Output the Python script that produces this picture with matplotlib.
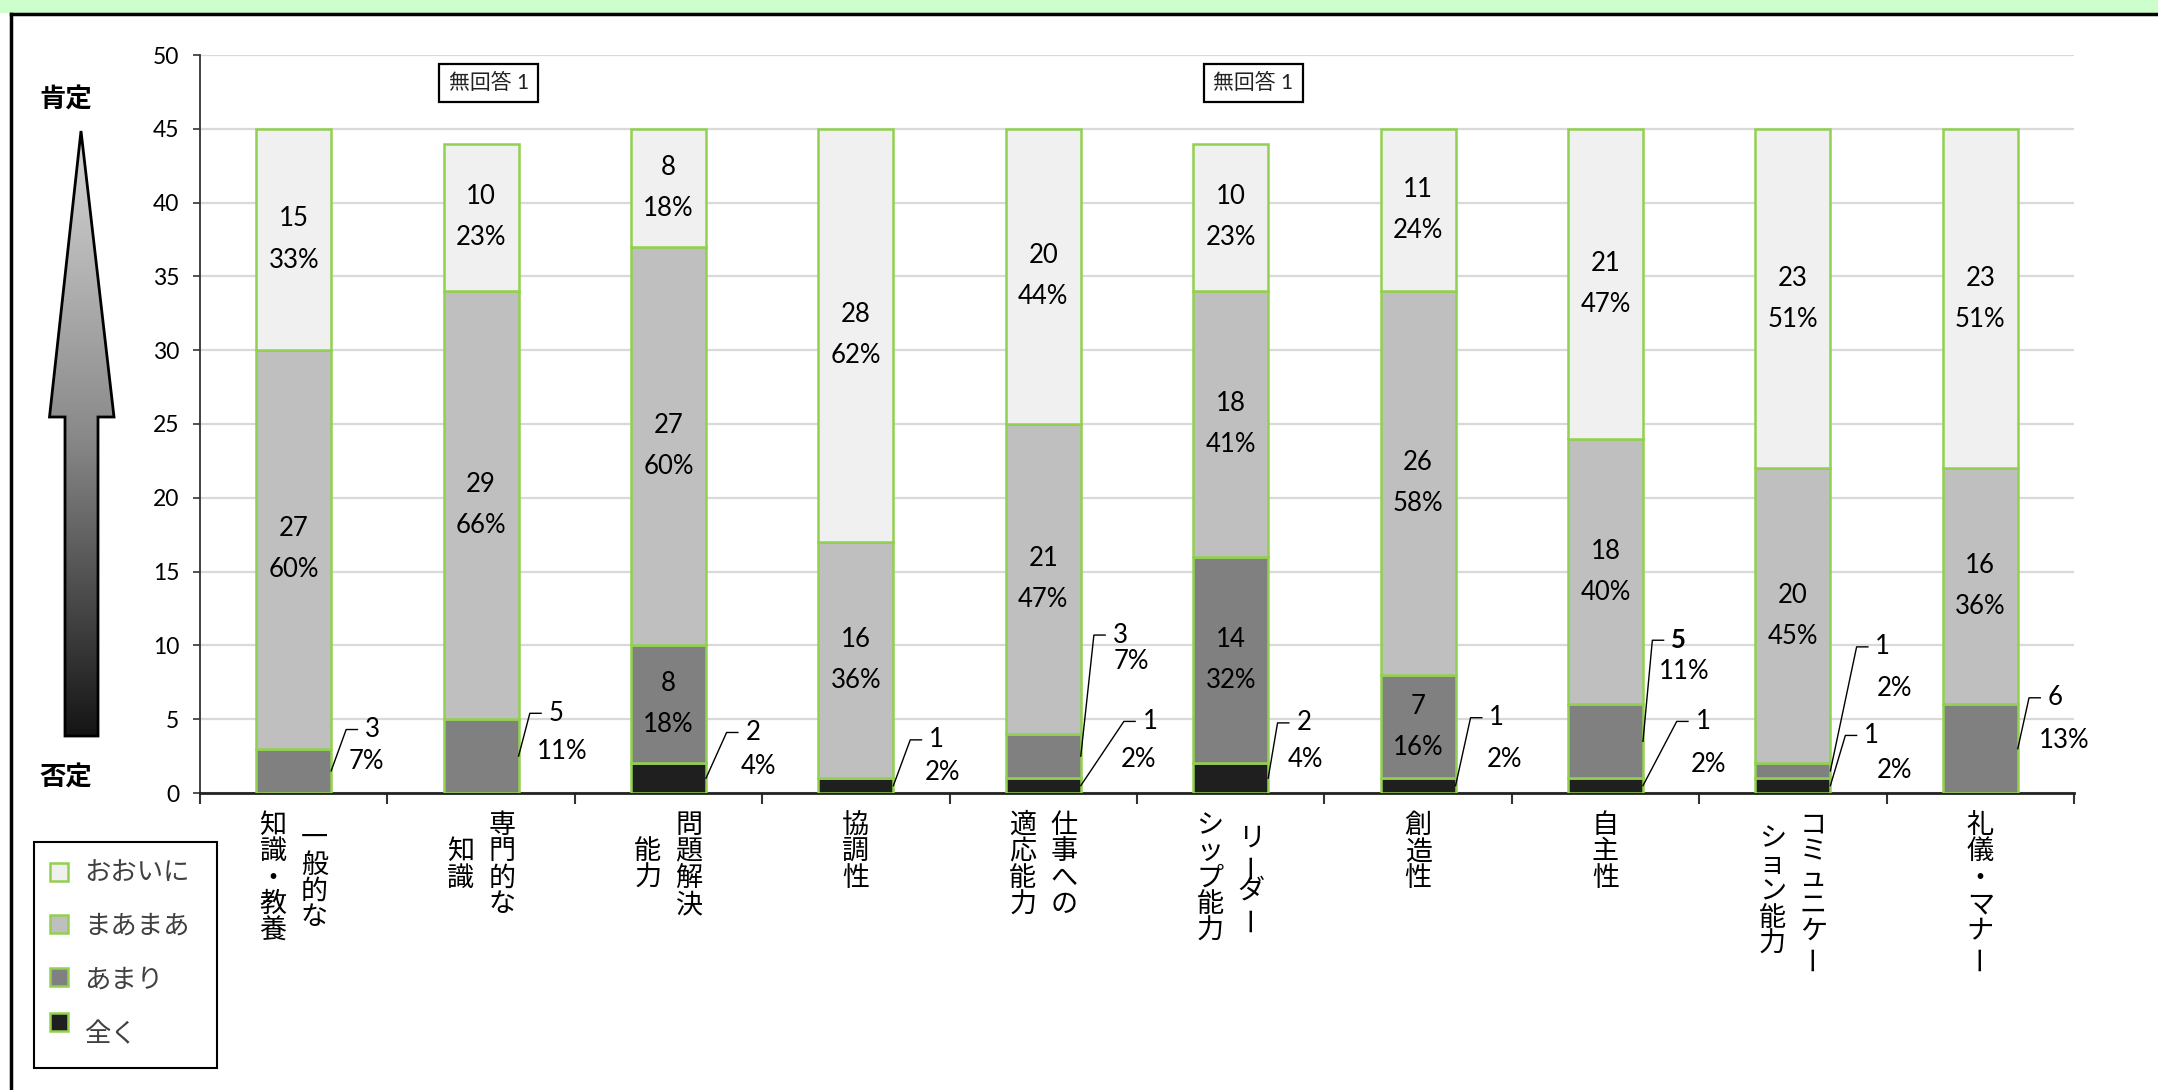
import numpy as np
import matplotlib
matplotlib.use("Agg")
import matplotlib.pyplot as plt
from matplotlib.patches import Polygon, Rectangle
from matplotlib.colors import LinearSegmentedColormap

plt.rcParams["font.family"] = ["Lato", "Noto Sans CJK JP", "DejaVu Sans"]

# ---- data ----
categories = [
    ["一般的な", "知識・教養"],
    ["専門的な", "知識"],
    ["問題解決", "能力"],
    ["協調性"],
    ["仕事への", "適応能力"],
    ["リーダー", "シップ能力"],
    ["創造性"],
    ["自主性"],
    ["コミュニケー", "ション能力"],
    ["礼儀・マナー"],
]
series_names = ["全く", "あまり", "まあまあ", "おおいに"]
zenku = [0, 0, 2, 1, 1, 2, 1, 1, 1, 0]
amari = [3, 5, 8, 0, 3, 14, 7, 5, 1, 6]
maamaa = [27, 29, 27, 16, 21, 18, 26, 18, 20, 16]
ooini = [15, 10, 8, 28, 20, 10, 11, 21, 23, 23]
pct_zenku = ["", "", "4%", "2%", "2%", "4%", "2%", "2%", "2%", ""]
pct_amari = ["7%", "11%", "18%", "", "7%", "32%", "16%", "11%", "2%", "13%"]
pct_maamaa = ["60%", "66%", "60%", "36%", "47%", "41%", "58%", "40%", "45%", "36%"]
pct_ooini = ["33%", "23%", "18%", "62%", "44%", "23%", "24%", "47%", "51%", "51%"]
no_answer_cats = [1, 5]
no_answer_text = "無回答 1"

# ---- styles / layout ----
colors = ["#1f1f1f", "#808080", "#bfbfbf", "#f0f0f0"]
edge = "#92d050"
lab_fs = 18.5
# outside labels: (category, series) -> (x_top, y_top, x_bottom, y_bottom)
outside = {
    (0, 1): (0.42, 4.3, 0.39, 2.15),
    (1, 1): (0.40, 5.4, 0.43, 2.8),
    (2, 0): (0.45, 4.1, 0.48, 1.8),
    (3, 0): (0.43, 3.6, 0.46, 1.4),
    (4, 1): (0.41, 10.7, 0.47, 8.9),
    (4, 0): (0.57, 4.85, 0.51, 2.3),
    (5, 0): (0.39, 4.75, 0.40, 2.3),
    (6, 0): (0.42, 5.1, 0.46, 2.3),
    (7, 1): (0.39, 10.35, 0.42, 8.2),
    (7, 0): (0.52, 4.85, 0.55, 1.9),
    (8, 1): (0.48, 9.9, 0.54, 7.1),
    (8, 0): (0.42, 3.9, 0.54, 1.5),
    (9, 1): (0.40, 6.45, 0.45, 3.55),
}
bold_top = {(7, 1)}

W, H = 2158, 1090
fig = plt.figure(figsize=(W / 100, H / 100), dpi=100)
fig.patch.set_facecolor("white")

ov = fig.add_axes([0, 0, 1, 1])
ov.set_xlim(0, W)
ov.set_ylim(H, 0)
ov.axis("off")
ov.set_zorder(0)

ax = fig.add_axes([200 / W, 1 - 793 / H, (2074 - 200) / W, (793 - 55) / H])
ax.set_zorder(1)

series = [zenku, amari, maamaa, ooini]
pcts = [pct_zenku, pct_amari, pct_maamaa, pct_ooini]
x = np.arange(len(categories))
bottom = np.zeros(len(x))
for s, (vals, pl, c) in enumerate(zip(series, pcts, colors)):
    vals = np.array(vals, dtype=float)
    ax.bar(x, vals, 0.4, bottom=bottom, color=c, edgecolor=edge, linewidth=1.8,
           zorder=3)
    for i, v in enumerate(vals):
        if v == 0:
            continue
        mid = bottom[i] + v / 2
        if (i, s) in outside:
            xt, yt, xb, yb = outside[(i, s)]
            ax.plot([i + 0.2, i + xt - 0.14, i + xt - 0.08], [mid, yt, yt],
                    color="black", lw=1.0, zorder=4, clip_on=False)
            ax.text(i + xt, yt, f"{int(v)}", ha="center", va="center", fontsize=lab_fs,
                    fontweight="bold" if (i, s) in bold_top else "normal", zorder=5)
            ax.text(i + xb, yb, pl[i], ha="center", va="center", fontsize=lab_fs, zorder=5)
        else:
            ax.text(i, mid, f"{int(v)}\n{pl[i]}", ha="center", va="center",
                    fontsize=lab_fs, linespacing=1.8, zorder=5)
    bottom += vals

ax.set_xlim(-0.5, len(x) - 0.5)
ax.set_ylim(0, 50)
ax.set_yticks(range(0, 51, 5))
ax.set_xticks(np.arange(-0.5, len(x), 1))
ax.set_xticklabels([])
ax.tick_params(axis="y", length=5, width=1.2, labelsize=16.5, pad=10, color="#333333")
ax.tick_params(axis="x", length=8, width=1.5, color="#333333")
ax.yaxis.grid(True, color="#d9d9d9", lw=1.6, zorder=0)
ax.set_axisbelow(True)
for side in ["top", "right"]:
    ax.spines[side].set_visible(False)
ax.spines["left"].set_color("#333333")
ax.spines["left"].set_linewidth(1.3)
ax.spines["bottom"].set_color("#222222")
ax.spines["bottom"].set_linewidth(2)

for ci, dx in zip(no_answer_cats, [0.04, 0.12]):
    ax.text(ci + dx, 48.1, no_answer_text, ha="center", va="center", fontsize=15,
            color="#222222",
            bbox=dict(boxstyle="square,pad=0.45", fc="white", ec="black", lw=1.6))

# vertical category labels
tr = ax.get_xaxis_transform()
row = 26.5 / 738
colsp = 41.2 / 187.4
top = (793 - 812) / 738
for i, lines in enumerate(categories):
    n = len(lines)
    maxlen = max(len(t) for t in lines)
    for j, line in enumerate(lines):
        cx = i + ((n - 1) / 2 - j) * colsp
        off = (maxlen - len(line)) / 2
        for k, ch in enumerate(line):
            cy = top - (off + k + 0.5) * row
            ax.text(cx, cy, ch, transform=tr, ha="center", va="center",
                    fontsize=19.5, family=["Noto Sans CJK JP", "DejaVu Sans"],
                    rotation=90 if ch == "ー" else 0, rotation_mode="anchor",
                    clip_on=False)

# frame and top strip
ov.add_patch(Rectangle((0, 0), W, 13, color="#ccffcc", lw=0))
ov.plot([11, W], [14, 14], color="black", lw=2.5)
ov.plot([11, 11], [14, H], color="black", lw=2.5)

# gradient arrow
verts = [(81, 131), (114, 417), (98, 417), (98, 736), (65, 736), (65, 417), (49.5, 417)]
poly = Polygon(verts, closed=True, fc="none", ec="black", lw=2, zorder=3)
ov.add_patch(poly)
cmap = LinearSegmentedColormap.from_list("g", ["#d6d6d6", "#8a8a8a", "#151515"])
im = ov.imshow(np.linspace(0, 1, 256)[:, None], cmap=cmap, aspect="auto",
               extent=(49, 115, 736, 131), origin="upper", zorder=2)
im.set_clip_path(poly)
ov.set_xlim(0, W)
ov.set_ylim(H, 0)
ov.text(66, 100, "肯定", ha="center", va="center", fontsize=19, fontweight="bold",
        family=["Noto Sans CJK JP"])
ov.text(66, 778, "否定", ha="center", va="center", fontsize=19, fontweight="bold",
        family=["Noto Sans CJK JP"])

# legend
ov.add_patch(Rectangle((34, 842), 183, 226, fill=False, ec="black", lw=1.5))
leg_y = [872, 924, 977, 1022]
lab_y = [872, 926, 980, 1035]
for name, c, sy, ly in zip(series_names[::-1], colors[::-1], leg_y, lab_y):
    ov.add_patch(Rectangle((50, sy - 9), 18, 18, fc=c, ec=edge, lw=1.8))
    ov.text(84, ly, name, ha="left", va="center", fontsize=19, color="#404040",
            family=["Noto Sans CJK JP"])

fig.savefig("out.png", dpi=100)
